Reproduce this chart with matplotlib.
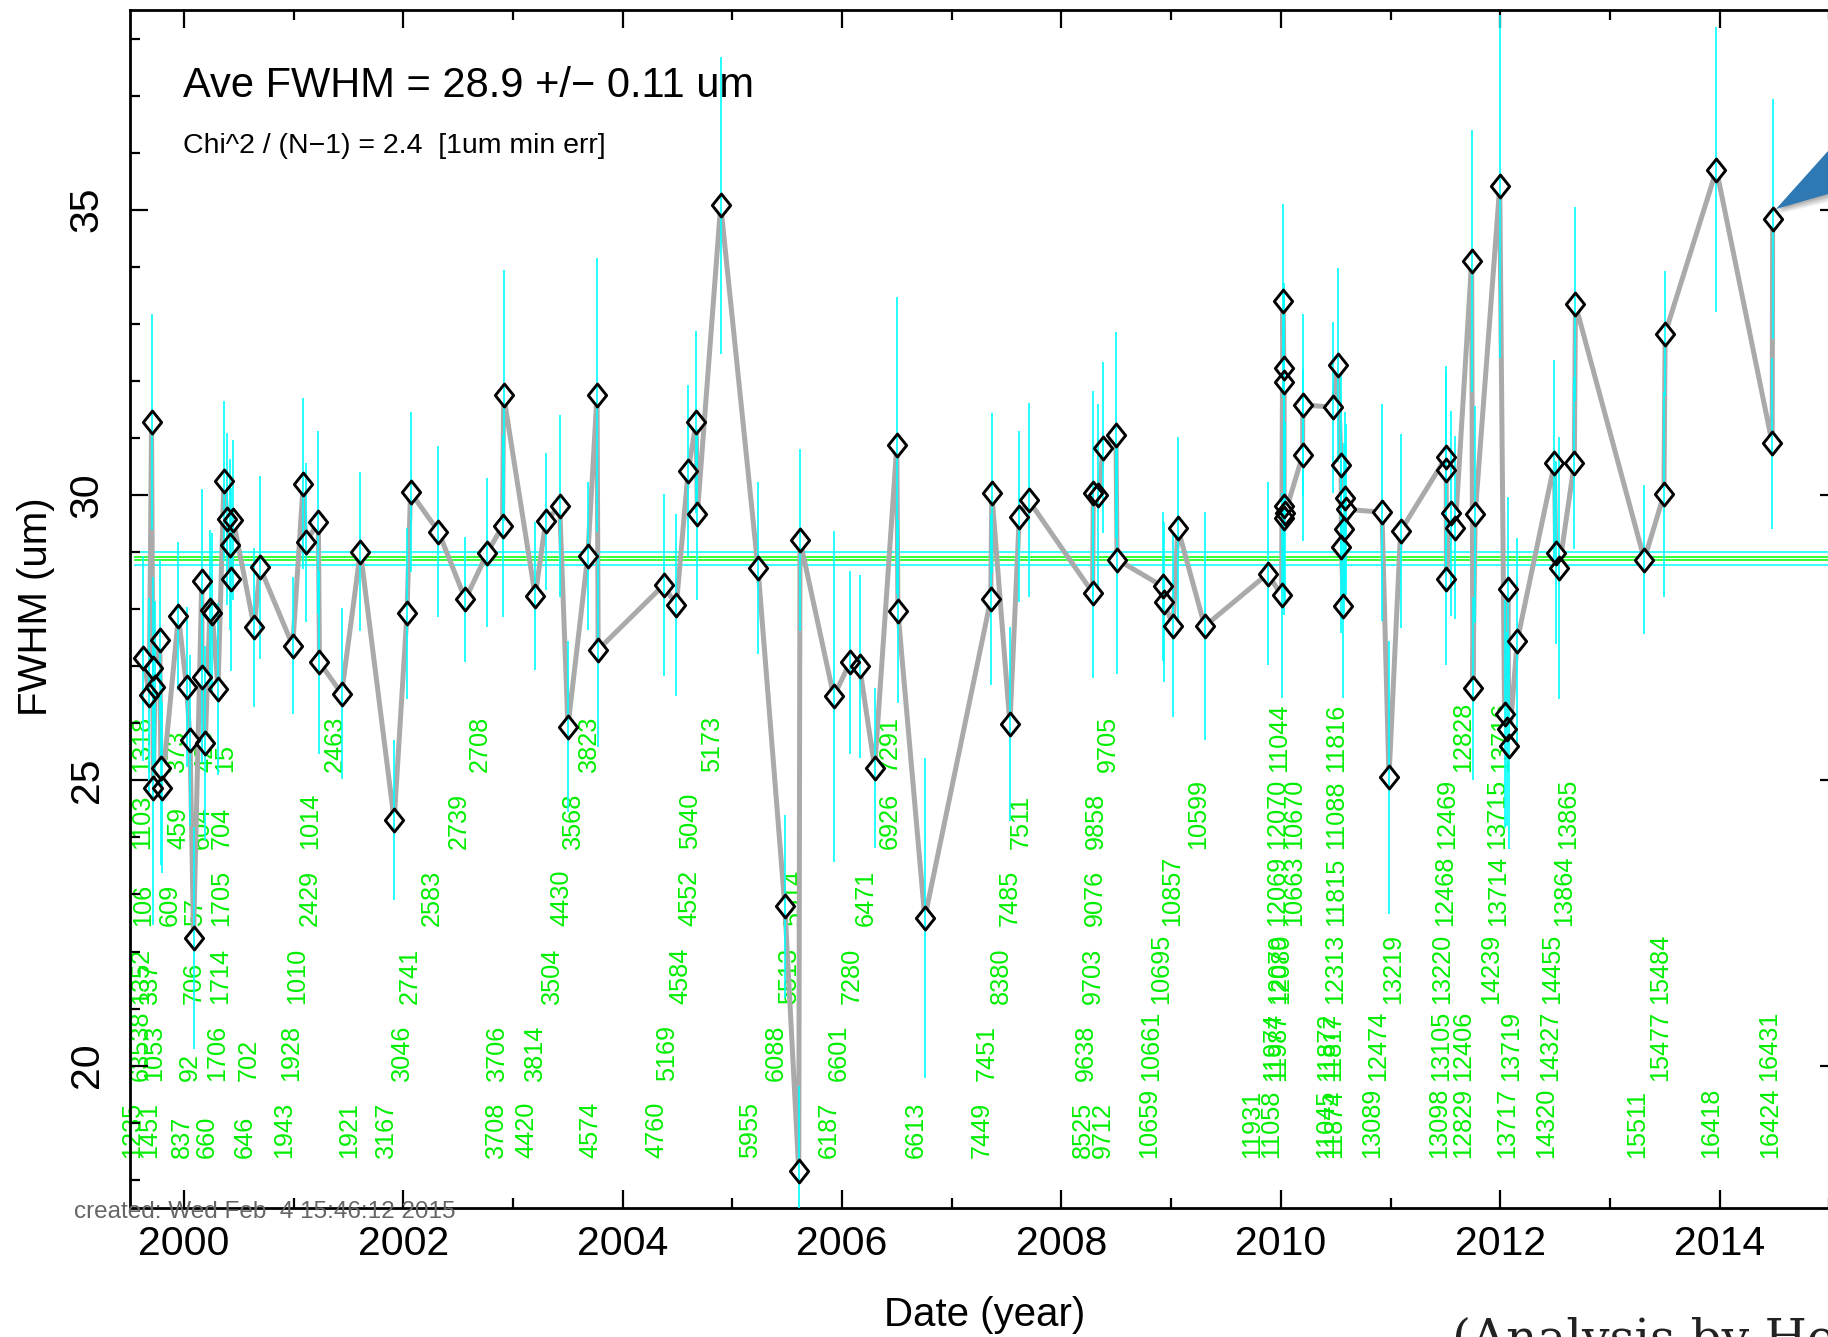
import numpy as np
import matplotlib
matplotlib.use("Agg")
import matplotlib.pyplot as plt
from matplotlib.path import Path
from matplotlib.patches import Polygon
from matplotlib.ticker import MultipleLocator, FuncFormatter

plt.rcParams['font.family'] = ['Liberation Sans', 'DejaVu Sans']

# ---------------- data ----------------
dates = [
    1999.630, 1999.683, 1999.704, 1999.715, 1999.720, 1999.736, 1999.779, 1999.789, 1999.800,
    1999.949, 2000.023, 2000.055, 2000.087, 2000.162, 2000.165, 2000.194, 2000.236, 2000.257,
    2000.310, 2000.364, 2000.395, 2000.417, 2000.427, 2000.449, 2000.640, 2000.693, 2000.991,
    2001.087, 2001.108, 2001.225, 2001.235, 2001.437, 2001.608, 2001.916, 2002.033, 2002.065,
    2002.320, 2002.565, 2002.766, 2002.904, 2002.914, 2003.202, 2003.298, 2003.425, 2003.500,
    2003.681, 2003.766, 2003.776, 2004.372, 2004.489, 2004.596, 2004.670, 2004.680, 2004.893,
    2005.233, 2005.478, 2005.605, 2005.616, 2005.924, 2006.073, 2006.159, 2006.297, 2006.499,
    2006.509, 2006.754, 2007.355, 2007.365, 2007.530, 2007.615, 2007.700, 2008.284, 2008.290,
    2008.337, 2008.380, 2008.497, 2008.507, 2008.922, 2008.933, 2009.018, 2009.061, 2009.306,
    2009.880, 2010.007, 2010.018, 2010.029, 2010.030, 2010.031, 2010.032, 2010.040, 2010.199,
    2010.200, 2010.475, 2010.518, 2010.550, 2010.552, 2010.571, 2010.575, 2010.582, 2010.590,
    2010.922, 2010.986, 2011.092, 2011.506, 2011.508, 2011.510, 2011.549, 2011.591, 2011.740,
    2011.751, 2011.772, 2011.996, 2012.040, 2012.060, 2012.070, 2012.080, 2012.155, 2012.495,
    2012.506, 2012.538, 2012.676, 2012.686, 2013.314, 2013.493, 2013.504, 2013.972, 2014.480,
    2014.484]

fwhm = [
    27.14, 26.50, 31.28, 26.96, 24.87, 26.64, 27.46, 25.21, 24.87,
    27.88, 26.64, 25.70, 22.24, 28.50, 26.81, 25.66, 27.98, 27.94,
    26.60, 30.25, 29.58, 29.13, 28.52, 29.56, 27.68, 28.73, 27.36,
    30.20, 29.17, 29.52, 27.07, 26.52, 29.01, 24.30, 27.93, 30.05,
    29.36, 28.17, 28.99, 29.46, 31.75, 28.23, 29.54, 29.81, 25.94,
    28.93, 31.75, 27.29, 28.42, 28.07, 30.42, 31.28, 29.66, 35.08,
    28.72, 22.79, 18.15, 29.21, 26.47, 27.07, 27.00, 25.22, 30.87,
    27.96, 22.59, 28.17, 30.03, 25.98, 29.62, 29.91, 28.29, 30.03,
    30.00, 30.83, 31.05, 28.87, 28.40, 28.12, 27.71, 29.42, 27.70,
    28.62, 28.24, 33.40, 32.22, 31.98, 29.59, 29.81, 29.68, 30.70,
    31.58, 31.54, 32.28, 30.52, 29.09, 28.05, 29.41, 29.95, 29.75,
    29.70, 25.05, 29.37, 30.66, 30.44, 28.52, 29.68, 29.43, 34.10,
    26.61, 29.66, 35.41, 26.16, 25.90, 28.36, 25.60, 27.44, 30.56,
    28.99, 28.72, 30.56, 33.34, 28.87, 30.01, 32.83, 35.70, 30.91,
    34.84]

fwhm_err = [
    1.8, 1.7, 1.9, 1.6, 2.4, 1.5, 1.4, 1.7, 1.5,
    1.3, 1.4, 1.5, 1.95, 1.6, 1.5, 1.7, 1.4, 1.4,
    1.5, 1.4, 1.5, 1.5, 1.6, 1.4, 1.4, 1.6, 1.2,
    1.5, 1.4, 1.6, 1.6, 1.5, 1.4, 1.4, 1.5, 1.4,
    1.5, 1.1, 1.3, 1.6, 2.2, 1.3, 1.2, 1.6, 1.5,
    1.3, 2.4, 1.7, 1.6, 1.6, 1.5, 1.6, 1.5, 2.6,
    1.5, 1.6, 1.5, 1.6, 2.9, 1.6, 1.6, 1.4, 2.6,
    1.6, 2.8, 1.5, 1.4, 1.7, 1.5, 1.7, 1.5, 1.8,
    1.6, 1.5, 1.8, 2.0, 1.3, 1.4, 1.6, 1.6, 2.0,
    1.6, 1.8, 1.7, 1.5, 1.5, 1.7, 1.6, 1.6, 1.5,
    1.6, 1.5, 1.7, 1.6, 1.5, 1.6, 1.5, 1.5, 1.5,
    1.9, 2.4, 1.7, 1.6, 1.7, 1.5, 1.8, 1.6, 2.3,
    1.6, 1.9, 3.0, 2.0, 1.7, 1.6, 1.8, 1.8, 1.8,
    1.6, 2.3, 1.5, 1.7, 1.3, 1.8, 1.1, 2.5, 1.5,
    2.1]

mean_fwhm = 28.89
mean_fwhm_err = 0.11
green_levels = [28.915, 28.87]

# observation-id annotations: id, date, row (0 = lowest row)
obs_ids = [
    "1318", "373", "425", "15", "2463", "2708", "3823", "5173", "7291", "9705", "11044", "11816",
    "12828", "13716",
    "1103", "459", "604", "704", "1014", "2739", "3568", "5040", "6926", "7511", "9858", "10599",
    "12070", "10670", "11088", "12469", "13715", "13865",
    "106", "609", "57", "1705", "2429", "2583", "4430", "4552", "5514", "6471", "7485", "9076",
    "10857", "12069", "10663", "11815", "12468", "13714", "13864",
    "1352", "337", "706", "1714", "1010", "2741", "3504", "4584", "5513", "7280", "8380", "9703",
    "10695", "12079", "12080", "12313", "13219", "13220", "14239", "14455", "15484",
    "63538", "1053", "92", "1706", "702", "1928", "3046", "3706", "3814", "5169", "6088", "6601",
    "7451", "9638", "10661", "11974", "11987", "11872", "11817", "12474", "13105", "12406",
    "13719", "14327", "15477", "16431",
    "1235", "1451", "837", "660", "646", "1943", "1921", "3167", "3708", "4420", "4574", "4760",
    "5955", "6187", "6613", "7449", "8525", "9712", "10659", "11931", "11058", "11045", "11874",
    "13089", "13098", "12829", "13717", "14320", "15511", "16418", "16424"]

obs_dates = [
    1999.619, 1999.938, 2000.194, 2000.374, 2001.374, 2002.692, 2003.691, 2004.818, 2006.435,
    2008.423, 2009.986, 2010.507, 2011.666, 2012.006,
    1999.619, 1999.949, 2000.162, 2000.342, 2001.150, 2002.501, 2003.543, 2004.617, 2006.435,
    2007.625, 2008.316, 2009.242, 2009.965, 2010.124, 2010.507, 2011.517, 2011.974, 2012.623,
    1999.630, 1999.874, 2000.098, 2000.342, 2001.150, 2002.256, 2003.436, 2004.606, 2005.563,
    2006.212, 2007.530, 2008.305, 2009.007, 2009.965, 2010.124, 2010.507, 2011.496, 2011.985,
    2012.581,
    1999.609, 1999.694, 2000.087, 2000.332, 2001.033, 2002.054, 2003.351, 2004.521, 2005.520,
    2006.084, 2007.445, 2008.284, 2008.912, 2009.976, 2010.007, 2010.496, 2011.028, 2011.475,
    2011.921, 2012.474, 2013.462,
    1999.609, 1999.726, 2000.055, 2000.300, 2000.587, 2000.980, 2001.990, 2002.851, 2003.202,
    2004.404, 2005.393, 2005.967, 2007.318, 2008.221, 2008.816, 2009.933, 2009.976, 2010.422,
    2010.475, 2010.890, 2011.464, 2011.666, 2012.102, 2012.453, 2013.462, 2014.450,
    1999.524, 1999.683, 1999.981, 2000.204, 2000.555, 2000.916, 2001.501, 2001.841, 2002.841,
    2003.117, 2003.702, 2004.308, 2005.159, 2005.882, 2006.669, 2007.275, 2008.199, 2008.380,
    2008.795, 2009.742, 2009.912, 2010.411, 2010.486, 2010.837, 2011.443, 2011.666, 2012.059,
    2012.421, 2013.250, 2013.919, 2014.461]

obs_rows = [5] * 14 + [4] * 18 + [3] * 19 + [2] * 21 + [1] * 26 + [0] * 31

# ---------------- figure ----------------
W, H = 1828, 1337
fig = plt.figure(figsize=(W / 100, H / 100), dpi=100)
ax = fig.add_axes([129.5 / W, 1 - 1208.3 / H, (1838 - 129.5) / W, (1208.3 - 10) / H])
ax.set_xlim(1999.503, 2015.08)
ax.set_ylim(17.5, 38.5)

d = np.asarray(dates)
v = np.asarray(fwhm)
e = np.asarray(fwhm_err)
order = np.argsort(d, kind="stable")
d, v, e = d[order], v[order], e[order]

x0, x1 = 1999.545, 2015.08
ax.hlines([mean_fwhm + mean_fwhm_err, mean_fwhm - mean_fwhm_err], x0, x1,
          colors="#00ffff", lw=1.1, zorder=1)
ax.hlines(green_levels, x0, x1, colors="#00ff00", lw=1.1, zorder=1)

# id labels
row_base, row_step = 18.38, 1.354
for oid, od, r in zip(obs_ids, obs_dates, obs_rows):
    ax.text(od, row_base + r * row_step, oid, rotation=90, ha="center", va="bottom",
            color="#00ee00", fontsize=18.2, zorder=1.5)

ax.plot(d, v, color="#aaaaaa", lw=3.6, zorder=2, solid_joinstyle="round")

diamond = Path([(0, 1), (0.8, 0), (0, -1), (-0.8, 0), (0, 1)],
               [Path.MOVETO, Path.LINETO, Path.LINETO, Path.LINETO, Path.CLOSEPOLY])
ax.plot(d, v, ls="none", marker=diamond, ms=16.5, mfc="white", mec="none", zorder=3)
ax.vlines(d, v - e, v + e, colors="#00ffff", lw=1.2, zorder=4)
ax.plot(d, v, ls="none", marker=diamond, ms=16.5, mfc="none", mec="black", mew=2.1, zorder=5)

# axes styling
ax.xaxis.set_major_locator(MultipleLocator(2))
ax.xaxis.set_minor_locator(MultipleLocator(1))
ax.yaxis.set_major_locator(MultipleLocator(5))
ax.yaxis.set_minor_locator(MultipleLocator(1))
ax.xaxis.set_major_formatter(FuncFormatter(lambda val, p: f"{val:.0f}"))
ax.yaxis.set_major_formatter(FuncFormatter(lambda val, p: f"{val:.0f}"))
ax.tick_params(which="both", direction="in", top=True, right=True, width=1.6, color="black")
ax.tick_params(which="major", length=13)
ax.tick_params(which="minor", length=7.2)
ax.tick_params(axis="x", labelsize=29.5, pad=12)
ax.tick_params(axis="y", labelsize=29.5, pad=17, labelrotation=90)
for lab in ax.get_yticklabels():
    lab.set_va("center")
for sp in ax.spines.values():
    sp.set_linewidth(2.0)

# texts
fig.text(183 / W, 1 - 96.7 / H, "Ave FWHM = 28.9 +/\u2212 0.11 um", fontsize=30,
         va="baseline", ha="left")
fig.text(183 / W, 1 - 153 / H, "Chi^2 / (N\u22121) = 2.4  [1um min err]", fontsize=20.5,
         va="baseline", ha="left")
fig.text(73.7 / W, 1 - 1218 / H, "created: Wed Feb  4 15:46:12 2015", fontsize=17.5,
         color="#666666", va="baseline", ha="left", zorder=10)
fig.text(36 / W, 1 - 606.7 / H, "FWHM (um)", rotation=90, fontsize=29,
         ha="center", va="center")
fig.text(985 / W, 1 - 1326 / H, "Date (year)", fontsize=29, ha="center", va="baseline")

# slide overlay: callout wedge (with soft shadow) and credit text
for k, a in enumerate([0.10, 0.12, 0.15, 0.18]):
    off = 8 - 2 * k
    shadow = Polygon([((1776 + off * 0.4) / W, 1 - (209 + off * 0.6) / H),
                      (1.0, 1 - (151 + off) / H), (1.0, 1 - (194 + off) / H)],
                     closed=True, transform=fig.transFigure,
                     facecolor="#555555", edgecolor="none", alpha=a, zorder=20)
    fig.add_artist(shadow)
wedge = Polygon([(1776 / W, 1 - 209 / H), (1.0, 1 - 151 / H), (1.0, 1 - 194 / H)],
                closed=True, transform=fig.transFigure, facecolor="#2e78b3",
                edgecolor="none", zorder=21)
fig.add_artist(wedge)
fig.text(1452 / W, 1 - 1353 / H, "(Analysis by Heather", fontsize=35,
         family="DejaVu Serif", ha="left", va="baseline", color="#222222")

fig.savefig("out.png", dpi=100)
